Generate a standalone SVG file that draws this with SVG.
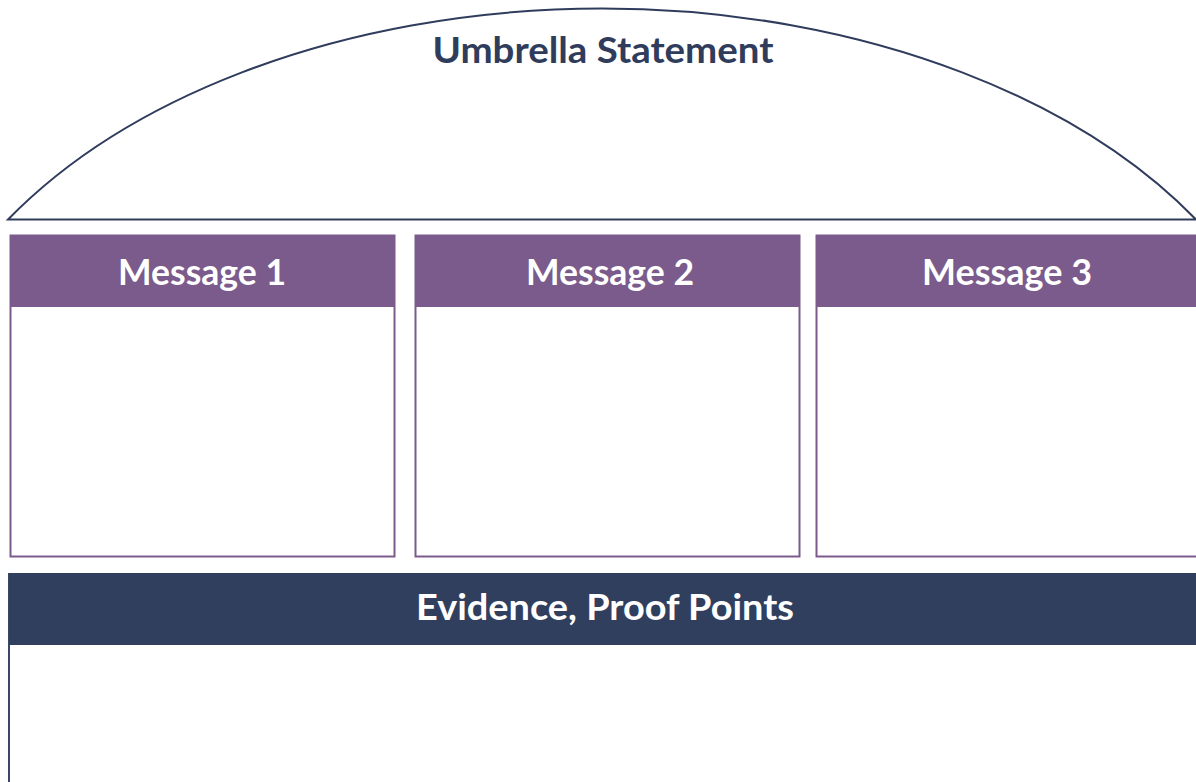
<svg xmlns="http://www.w3.org/2000/svg" width="1196" height="782" viewBox="0 0 1196 782">
  <style>
    .title { font-family: Lato, "Open Sans", "Liberation Sans", sans-serif; font-weight: 700; font-size: 36px; text-anchor: middle; }
    .navytext { fill: #2f3c5c; }
    .whitetext { fill: #ffffff; }
    .box { fill: #ffffff; stroke: #7b5a8c; stroke-width: 2; }
    .head { fill: #7b5a8c; }
  </style>
  <rect width="1196" height="782" fill="#ffffff"/>

  <!-- umbrella dome -->
  <g id="umbrella">
    <path d="M8,219.5 A700,448 0 0 1 1196,219.5 Z" fill="#ffffff" stroke="#2f3c5c" stroke-width="2" stroke-linejoin="miter"/>
    <text class="title navytext" x="603" y="63" textLength="341" lengthAdjust="spacingAndGlyphs">Umbrella Statement</text>
  </g>

  <!-- message columns -->
  <g id="message1">
    <rect class="box" x="10.5" y="235.5" width="384" height="321"/>
    <rect class="head" x="10" y="235" width="385" height="72"/>
    <text class="title whitetext" x="202" y="285" textLength="168" lengthAdjust="spacingAndGlyphs">Message 1</text>
  </g>
  <g id="message2">
    <rect class="box" x="415.5" y="235.5" width="384" height="321"/>
    <rect class="head" x="415" y="235" width="385" height="72"/>
    <text class="title whitetext" x="610" y="285" textLength="168" lengthAdjust="spacingAndGlyphs">Message 2</text>
  </g>
  <g id="message3">
    <rect class="box" x="816.5" y="235.5" width="400" height="321"/>
    <rect class="head" x="816" y="235" width="400" height="72"/>
    <text class="title whitetext" x="1007" y="285" textLength="170" lengthAdjust="spacingAndGlyphs">Message 3</text>
  </g>

  <!-- evidence band -->
  <g id="evidence">
    <line x1="9" y1="573" x2="9" y2="782" stroke="#3a4868" stroke-width="2"/>
    <rect x="9" y="573" width="1200" height="72" fill="#313f5f"/>
    <text class="title whitetext" x="605" y="620" textLength="378" lengthAdjust="spacingAndGlyphs">Evidence, Proof Points</text>
  </g>
</svg>
